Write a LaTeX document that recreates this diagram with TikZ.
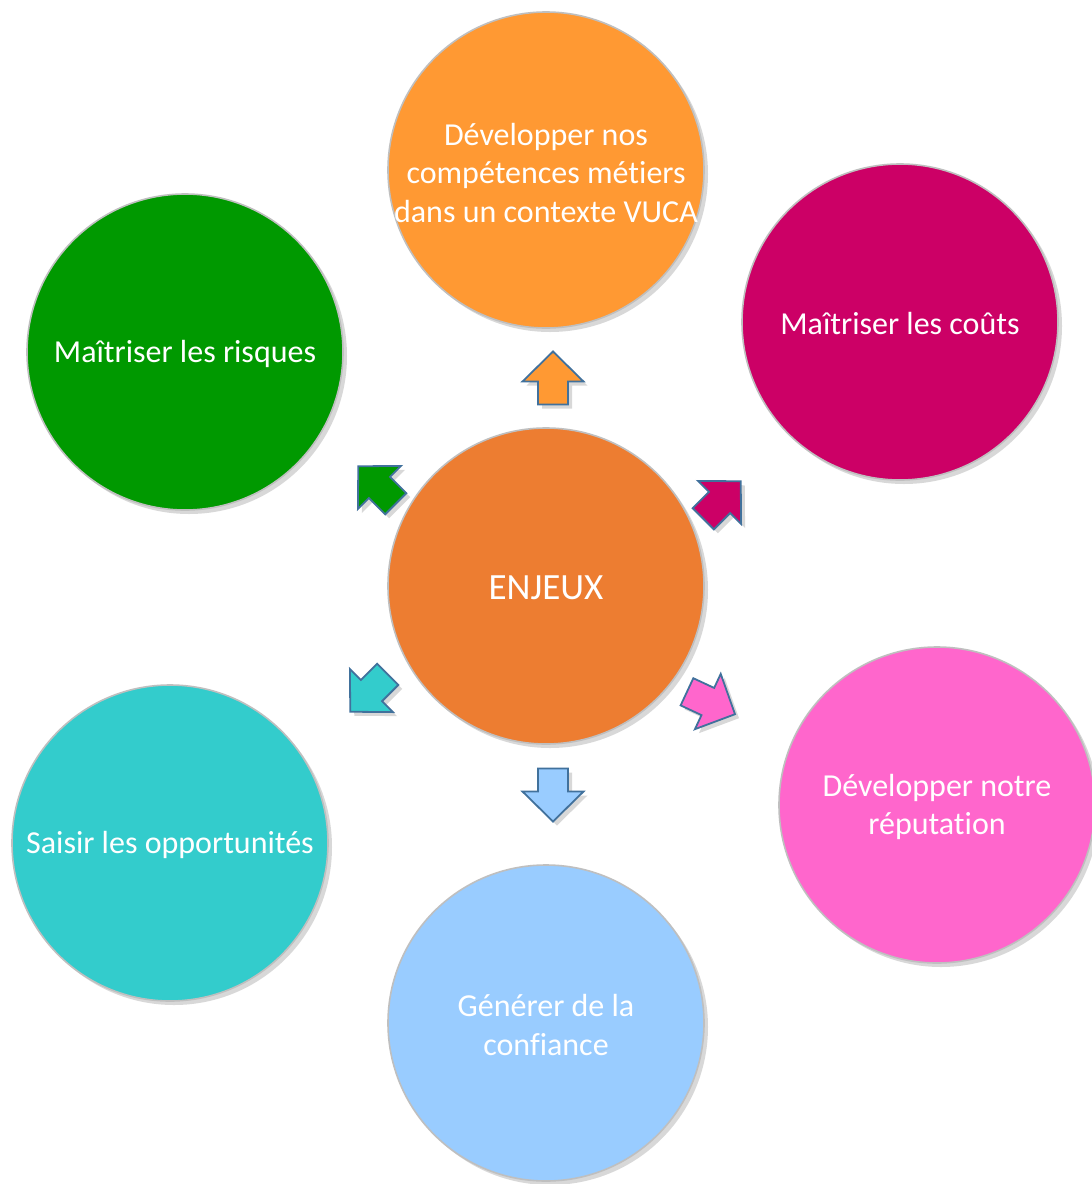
\documentclass[tikz,border=0pt]{standalone}
\usepackage{fontspec}
\setmainfont{Carlito}[Ligatures={NoCommon}]
\usepackage{xcolor}
\usetikzlibrary{positioning,shadows}

\definecolor{cCenter}{HTML}{ED7D31}
\definecolor{cTop}{HTML}{FF9933}
\definecolor{cCost}{HTML}{CC0066}
\definecolor{cRisk}{HTML}{009900}
\definecolor{cOpp}{HTML}{33CCCC}
\definecolor{cTrust}{HTML}{99CCFF}
\definecolor{cRep}{HTML}{FF66CC}
\definecolor{cEdge}{HTML}{41719C}
\definecolor{cRing}{HTML}{BFBFBF}

\newcommand{\blockarrowpath}{(-26.5,-15) -- (-3.5,-15) -- (-3.5,-30.5) -- (26.5,0) -- (-3.5,30.5) -- (-3.5,15) -- (-26.5,15) -- cycle}

\tikzset{
    bubble/.style={circle, draw=cRing, line width=0.8pt, minimum size=158pt, inner sep=0pt,
        drop shadow={shadow xshift=2pt, shadow yshift=-2pt, opacity=0.3}},
    bubbletext/.style={text=white, align=center, font=\fontsize{16}{19.25}\selectfont},
    blockarrow/.style={draw=cEdge, line width=0.9pt, line join=miter,
        drop shadow={shadow xshift=2pt, shadow yshift=-2pt, opacity=0.3}}
}

\begin{document}
\begin{tikzpicture}[x=0.5pt, y=-0.5pt]
    \useasboundingbox[fill=white] (0,0) rectangle (1092,1184);

    % Bubbles
    \node[bubble, fill=cCenter] (enjeux) at (546,586) {};
    \node[bubble, fill=cTop] (metiers) at (546,170) {};
    \node[bubble, fill=cCost] (couts) at (900,322) {};
    \node[bubble, fill=cRisk] (risques) at (185,352) {};
    \node[bubble, fill=cOpp] (opport) at (170,843) {};
    \node[bubble, fill=cTrust] (confiance) at (546,1023) {};
    \node[bubble, fill=cRep] (reputation) at (937,805) {};

    % Texts
    \node[bubbletext, font=\fontsize{18.5}{22}\selectfont] at ([yshift=-1pt]enjeux) {ENJEUX};
    \node[bubbletext] at ([yshift=-1.5pt]metiers) {Développer nos\\compétences métiers\\dans un contexte VUCA};
    \node[bubbletext] at ([yshift=-1pt]couts) {Maîtriser les coûts};
    \node[bubbletext] at ([yshift=-1pt]risques) {Maîtriser les risques};
    \node[bubbletext] at ([yshift=-1pt]opport) {Saisir les opportunités};
    \node[bubbletext] at ([yshift=-1pt]confiance) {Générer de la\\confiance};
    \node[bubbletext] at ([yshift=-1pt]reputation) {Développer notre\\réputation};

    % Block arrows
    \draw[blockarrow, fill=cTop, shift={(553,378)}, rotate=90] \blockarrowpath;
    \draw[blockarrow, fill=cCost, shift={(722,500)}, rotate=45] \blockarrowpath;
    \draw[blockarrow, fill=cRisk, shift={(377,485)}, rotate=135] \blockarrowpath;
    \draw[blockarrow, fill=cOpp, shift={(369,693)}, rotate=225] \blockarrowpath;
    \draw[blockarrow, fill=cRep, shift={(711,703)}, rotate=-25] \blockarrowpath;
    \draw[blockarrow, fill=cTrust, shift={(553,795)}, rotate=-90] \blockarrowpath;
\end{tikzpicture}
\end{document}
